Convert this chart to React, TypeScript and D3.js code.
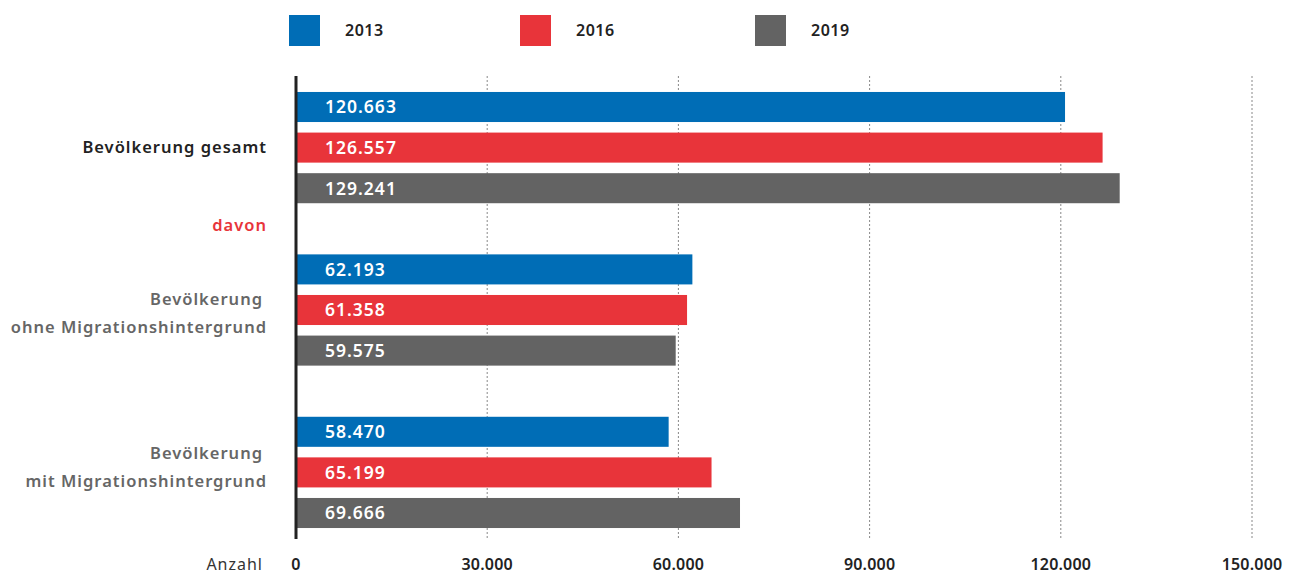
import React from "react";
import * as d3 from "d3";

const years = ["2013", "2016", "2019"];
const colors = ["#006DB6", "#E8343A", "#636363"];
const groups = ["Bevölkerung gesamt", "Bevölkerung ohne Migrationshintergrund", "Bevölkerung mit Migrationshintergrund"];
const values2013 = [120663, 62193, 58470];
const values2016 = [126557, 61358, 65199];
const values2019 = [129241, 59575, 69666];
const xTicks = [0, 30000, 60000, 90000, 120000, 150000];
const tickLabels = ["0", "30.000", "60.000", "90.000", "120.000", "150.000"];

const W = 1292;
const H = 576;
const FONT = "'Noto Sans', 'Open Sans', sans-serif";

// rows: 3 bars, "davon", 3 bars, blank, 3 bars
const rows = ["g0-0", "g0-1", "g0-2", "davon", "g1-0", "g1-1", "g1-2", "blank", "g2-0", "g2-1", "g2-2"];

export default function App() {
  const series = [values2013, values2016, values2019];
  const x = d3.scaleLinear().domain([0, 150000]).range([296, 1252]);
  const y = d3.scaleBand<string>().domain(rows).range([86.7, 533.3]).paddingInner(0.26).paddingOuter(0.13);
  const bw = y.bandwidth();
  const fmt = (v: number) => d3.format(",")(v).replace(/,/g, ".");

  const bars: { key: string; x: number; y: number; w: number; color: string; label: string }[] = [];
  groups.forEach((g, gi) => {
    series.forEach((s, si) => {
      const key = `g${gi}-${si}`;
      bars.push({ key, x: x(0), y: y(key)!, w: x(s[gi]) - x(0), color: colors[si], label: fmt(s[gi]) });
    });
  });

  const center = (k: string) => y(k)! + bw / 2;
  const labelX = 267;
  const legendX = [289, 520, 755];

  return (
    <svg width={W} height={H} style={{ position: "absolute", left: 0, top: 0, background: "#fff" }} fontFamily={FONT}>
      {/* legend */}
      {years.map((yr, i) => (
        <g key={yr}>
          <rect x={legendX[i]} y={15} width={31} height={31} fill={colors[i]} />
          <text x={legendX[i] + 56} y={30} dy="0.35em" fontSize={16} fontWeight={600} fill="#222" letterSpacing={0.5}>{yr}</text>
        </g>
      ))}

      {/* grid */}
      {xTicks.slice(1).map((t) => (
        <line key={t} x1={x(t)} x2={x(t)} y1={76} y2={540} stroke="#888" strokeWidth={1} strokeDasharray="2,2" />
      ))}

      {/* bars */}
      {bars.map((b) => (
        <g key={b.key}>
          <rect x={b.x} y={b.y} width={b.w} height={bw} fill={b.color} />
          <text x={325} y={b.y + bw / 2} dy="0.36em" fontSize={17.5} fontWeight={600} fill="#fff" letterSpacing={1}>{b.label}</text>
        </g>
      ))}

      {/* axis line */}
      <line x1={296} x2={296} y1={76} y2={539} stroke="#222" strokeWidth={3} />

      {/* category labels */}
      <text x={labelX} y={center("g0-1")} dy="0.35em" textAnchor="end" fontSize={16.5} fontWeight={600} fill="#222" letterSpacing={1}>{groups[0]}</text>
      <text x={labelX} y={center("davon") - 4} dy="0.35em" textAnchor="end" fontSize={16.5} fontWeight={600} fill="#E8343A" letterSpacing={1}>davon</text>
      <text textAnchor="end" fontSize={16.5} fontWeight={600} fill="#666" letterSpacing={1}>
        <tspan x={labelX - 4} y={center("g1-1") - 11} dy="0.35em">Bevölkerung</tspan>
        <tspan x={labelX} y={center("g1-1") + 17} dy="0.35em">ohne Migrationshintergrund</tspan>
      </text>
      <text textAnchor="end" fontSize={16.5} fontWeight={600} fill="#666" letterSpacing={1}>
        <tspan x={labelX - 4} y={center("g2-1") - 19} dy="0.35em">Bevölkerung</tspan>
        <tspan x={labelX} y={center("g2-1") + 9} dy="0.35em">mit Migrationshintergrund</tspan>
      </text>

      {/* x axis labels */}
      <text x={263} y={570} textAnchor="end" fontSize={16} fill="#333" letterSpacing={1}>Anzahl</text>
      {xTicks.map((t, i) => (
        <text key={t} x={x(t)} y={570} textAnchor="middle" fontSize={16} fontWeight={600} fill="#222" letterSpacing={0.2}>{tickLabels[i]}</text>
      ))}
    </svg>
  );
}
